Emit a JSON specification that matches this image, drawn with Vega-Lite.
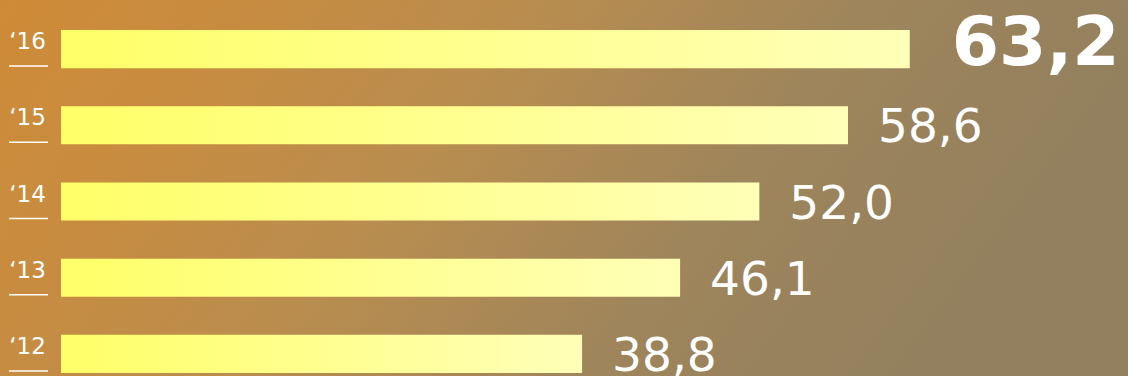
{
  "$schema": "https://vega.github.io/schema/vega-lite/v6.json",
  "width": 1128,
  "height": 376,
  "autosize": "none",
  "padding": 0,
  "background": "#b08a50",
  "config": {"view": {"stroke": null}},
  "data": {"values": [
    {"year": "‘16", "value": 63.2, "label": "63,2", "latest": true},
    {"year": "‘15", "value": 58.6, "label": "58,6", "latest": false},
    {"year": "‘14", "value": 52.0, "label": "52,0", "latest": false},
    {"year": "‘13", "value": 46.1, "label": "46,1", "latest": false},
    {"year": "‘12", "value": 38.8, "label": "38,8", "latest": false}
  ]},
  "layer": [
    {
      "data": {"values": [{"a": 1}]},
      "mark": {"type": "rect", "color": {"gradient": "linear", "x1": 0, "y1": 0, "x2": 1, "y2": 0.25,
        "stops": [
          {"offset": 0, "color": "#ce8b37"},
          {"offset": 0.2, "color": "#c88c40"},
          {"offset": 0.45, "color": "#b98d4f"},
          {"offset": 0.72, "color": "#9f855b"},
          {"offset": 1, "color": "#92805e"}
        ]}},
      "encoding": {}
    },
    {
      "mark": {"type": "bar", "color": {"gradient": "linear", "x1": 0, "y1": 0, "x2": 1, "y2": 0,
        "stops": [
          {"offset": 0, "color": "#ffff68"},
          {"offset": 1, "color": "#ffffb8"}
        ]}},
      "encoding": {
        "y": {"field": "year", "type": "nominal", "sort": ["‘16", "‘15", "‘14", "‘13", "‘12"],
              "scale": {"range": [11, 392], "paddingInner": 0.5, "paddingOuter": 0.25}, "axis": null},
        "x": {"field": "value", "type": "quantitative", "scale": {"domain": [-4.542, 79.45], "nice": false, "zero": false}, "axis": null}
      }
    },
    {
      "mark": {"type": "text", "align": "left", "baseline": "alphabetic", "font": "DejaVu Sans", "fontWeight": "normal", "fontSize": 23, "color": "white"},
      "encoding": {
        "y": {"field": "year", "type": "nominal", "sort": ["‘16", "‘15", "‘14", "‘13", "‘12"], "axis": null},
        "x": {"datum": -3.85, "type": "quantitative"},
        "text": {"field": "year"}
      }
    },
    {
      "mark": {"type": "rule", "color": "white", "strokeWidth": 1.5, "yOffset": 17},
      "encoding": {
        "y": {"field": "year", "type": "nominal", "sort": ["‘16", "‘15", "‘14", "‘13", "‘12"], "axis": null},
        "x": {"datum": -3.87, "type": "quantitative"},
        "x2": {"datum": -0.97, "type": "quantitative"}
      }
    },
    {
      "transform": [{"filter": "!datum.latest"}],
      "mark": {"type": "text", "align": "left", "baseline": "alphabetic", "dx": 30, "dy": 17, "font": "DejaVu Sans", "fontWeight": "normal", "fontSize": 47, "color": "white"},
      "encoding": {
        "y": {"field": "year", "type": "nominal", "sort": ["‘16", "‘15", "‘14", "‘13", "‘12"], "axis": null},
        "x": {"field": "value", "type": "quantitative"},
        "text": {"field": "label"}
      }
    },
    {
      "transform": [{"filter": "datum.latest"}],
      "mark": {"type": "text", "align": "left", "baseline": "alphabetic", "dx": 42, "dy": 16, "font": "DejaVu Sans", "fontWeight": "bold", "fontSize": 68, "color": "white"},
      "encoding": {
        "y": {"field": "year", "type": "nominal", "sort": ["‘16", "‘15", "‘14", "‘13", "‘12"], "axis": null},
        "x": {"field": "value", "type": "quantitative"},
        "text": {"field": "label"}
      }
    }
  ]
}
